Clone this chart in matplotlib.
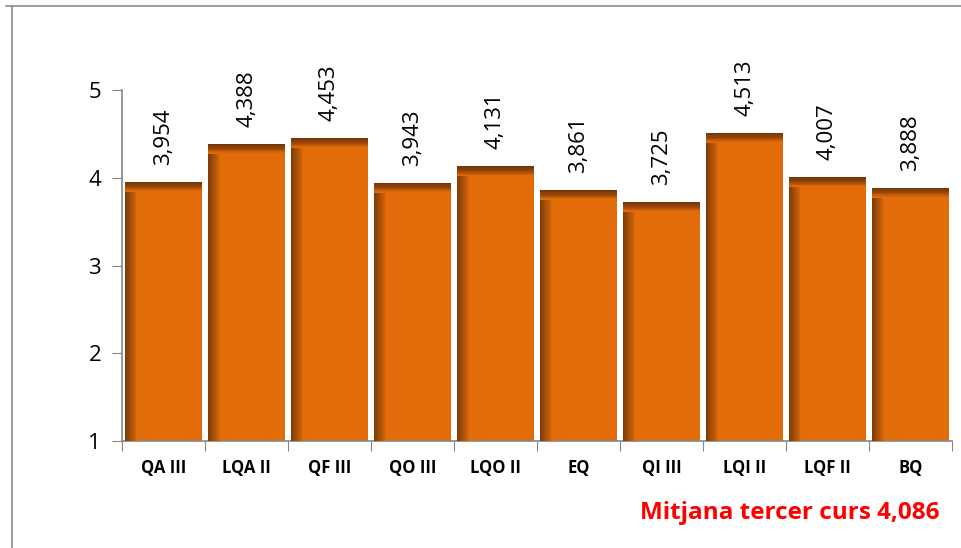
import numpy as np
import matplotlib
matplotlib.use("Agg")
import matplotlib.pyplot as plt
from matplotlib.colors import LinearSegmentedColormap
from matplotlib.lines import Line2D

categories = ["QA III", "LQA II", "QF III", "QO III", "LQO II", "EQ", "QI III", "LQI II", "LQF II", "BQ"]
values = [3.954, 4.388, 4.453, 3.943, 4.131, 3.861, 3.725, 4.513, 4.007, 3.888]
yticks = [1, 2, 3, 4, 5]
note = "Mitjana tercer curs 4,086"

W, H = 961, 548
fig = plt.figure(figsize=(W / 100, H / 100), dpi=100)
fig.patch.set_facecolor("white")

# outer frame lines (top and left)
fig.add_artist(Line2D([6 / W, 1], [1 - 6 / H, 1 - 6 / H], color="#8c8c8c", lw=1.2))
fig.add_artist(Line2D([12 / W, 12 / W], [0, 1 - 6 / H], color="#8c8c8c", lw=1.2))

ax = fig.add_axes([122 / W, 1 - 441 / H, (952 - 122) / W, (441 - 90) / H])
ax.set_facecolor("none")

x = np.arange(len(categories))
vals = np.array(values)
bw = 0.92
base = "#E36C0A"
ax.bar(x, vals - 1, bottom=1, width=bw, color=base, zorder=2, linewidth=0)

# shading gradients (left and top edges) built from thin bar slices
px_per_unit = (441 - 90) / 4.0
px_per_x = (952 - 122) / len(categories)
left_cmap = LinearSegmentedColormap.from_list("l", ["#7E3C08", base])
top_cmap = LinearSegmentedColormap.from_list("t", ["#723505", "#9A4709", base])
nl = 14
lw_ = 13 / px_per_x
for j in range(nl):
    ax.bar(x - bw / 2 + j * lw_ / nl, vals - 1, bottom=1, width=lw_ / nl * 1.02,
           align="edge", color=left_cmap(j / (nl - 1)), zorder=3, linewidth=0)
nt = 12
th = 10 / px_per_unit
for k in range(nt):
    ax.bar(x, th / nt * 1.02, bottom=vals - (k + 1) * th / nt, width=bw,
           color=top_cmap(k / (nt - 1)), zorder=4, linewidth=0)

for xi, v in zip(x, values):
    ax.text(xi, v + 17 / px_per_unit, f"{v:.3f}".replace(".", ","), rotation=90,
            ha="center", va="bottom", fontsize=16, family="Open Sans", color="black")

ax.set_xlim(-0.5, len(categories) - 0.5)
ax.set_ylim(1, 5)
ax.set_yticks(yticks)
ax.set_yticklabels([str(t) for t in yticks], fontsize=16, family="Open Sans")

ax.set_xticks(np.arange(len(categories) + 1) - 0.5)
ax.set_xticklabels([])
ax.set_xticks(x, minor=True)
ax.set_xticklabels(categories, minor=True, fontsize=12, fontweight="bold", family="Open Sans")
ax.tick_params(axis="x", which="minor", length=0, pad=13)
ax.tick_params(axis="x", which="major", length=7, color="#868686", direction="out")
ax.tick_params(axis="y", length=7, color="#868686", direction="out", pad=8)

for s in ["top", "right"]:
    ax.spines[s].set_visible(False)
for s in ["left", "bottom"]:
    ax.spines[s].set_color("#868686")
    ax.spines[s].set_linewidth(1.2)

fig.text(940 / W, 1 - 513 / H, note, ha="right", va="center", fontsize=17.5,
         fontweight="bold", color="#FF0000", family="Open Sans")

fig.savefig("out.png", dpi=100, facecolor="white")
